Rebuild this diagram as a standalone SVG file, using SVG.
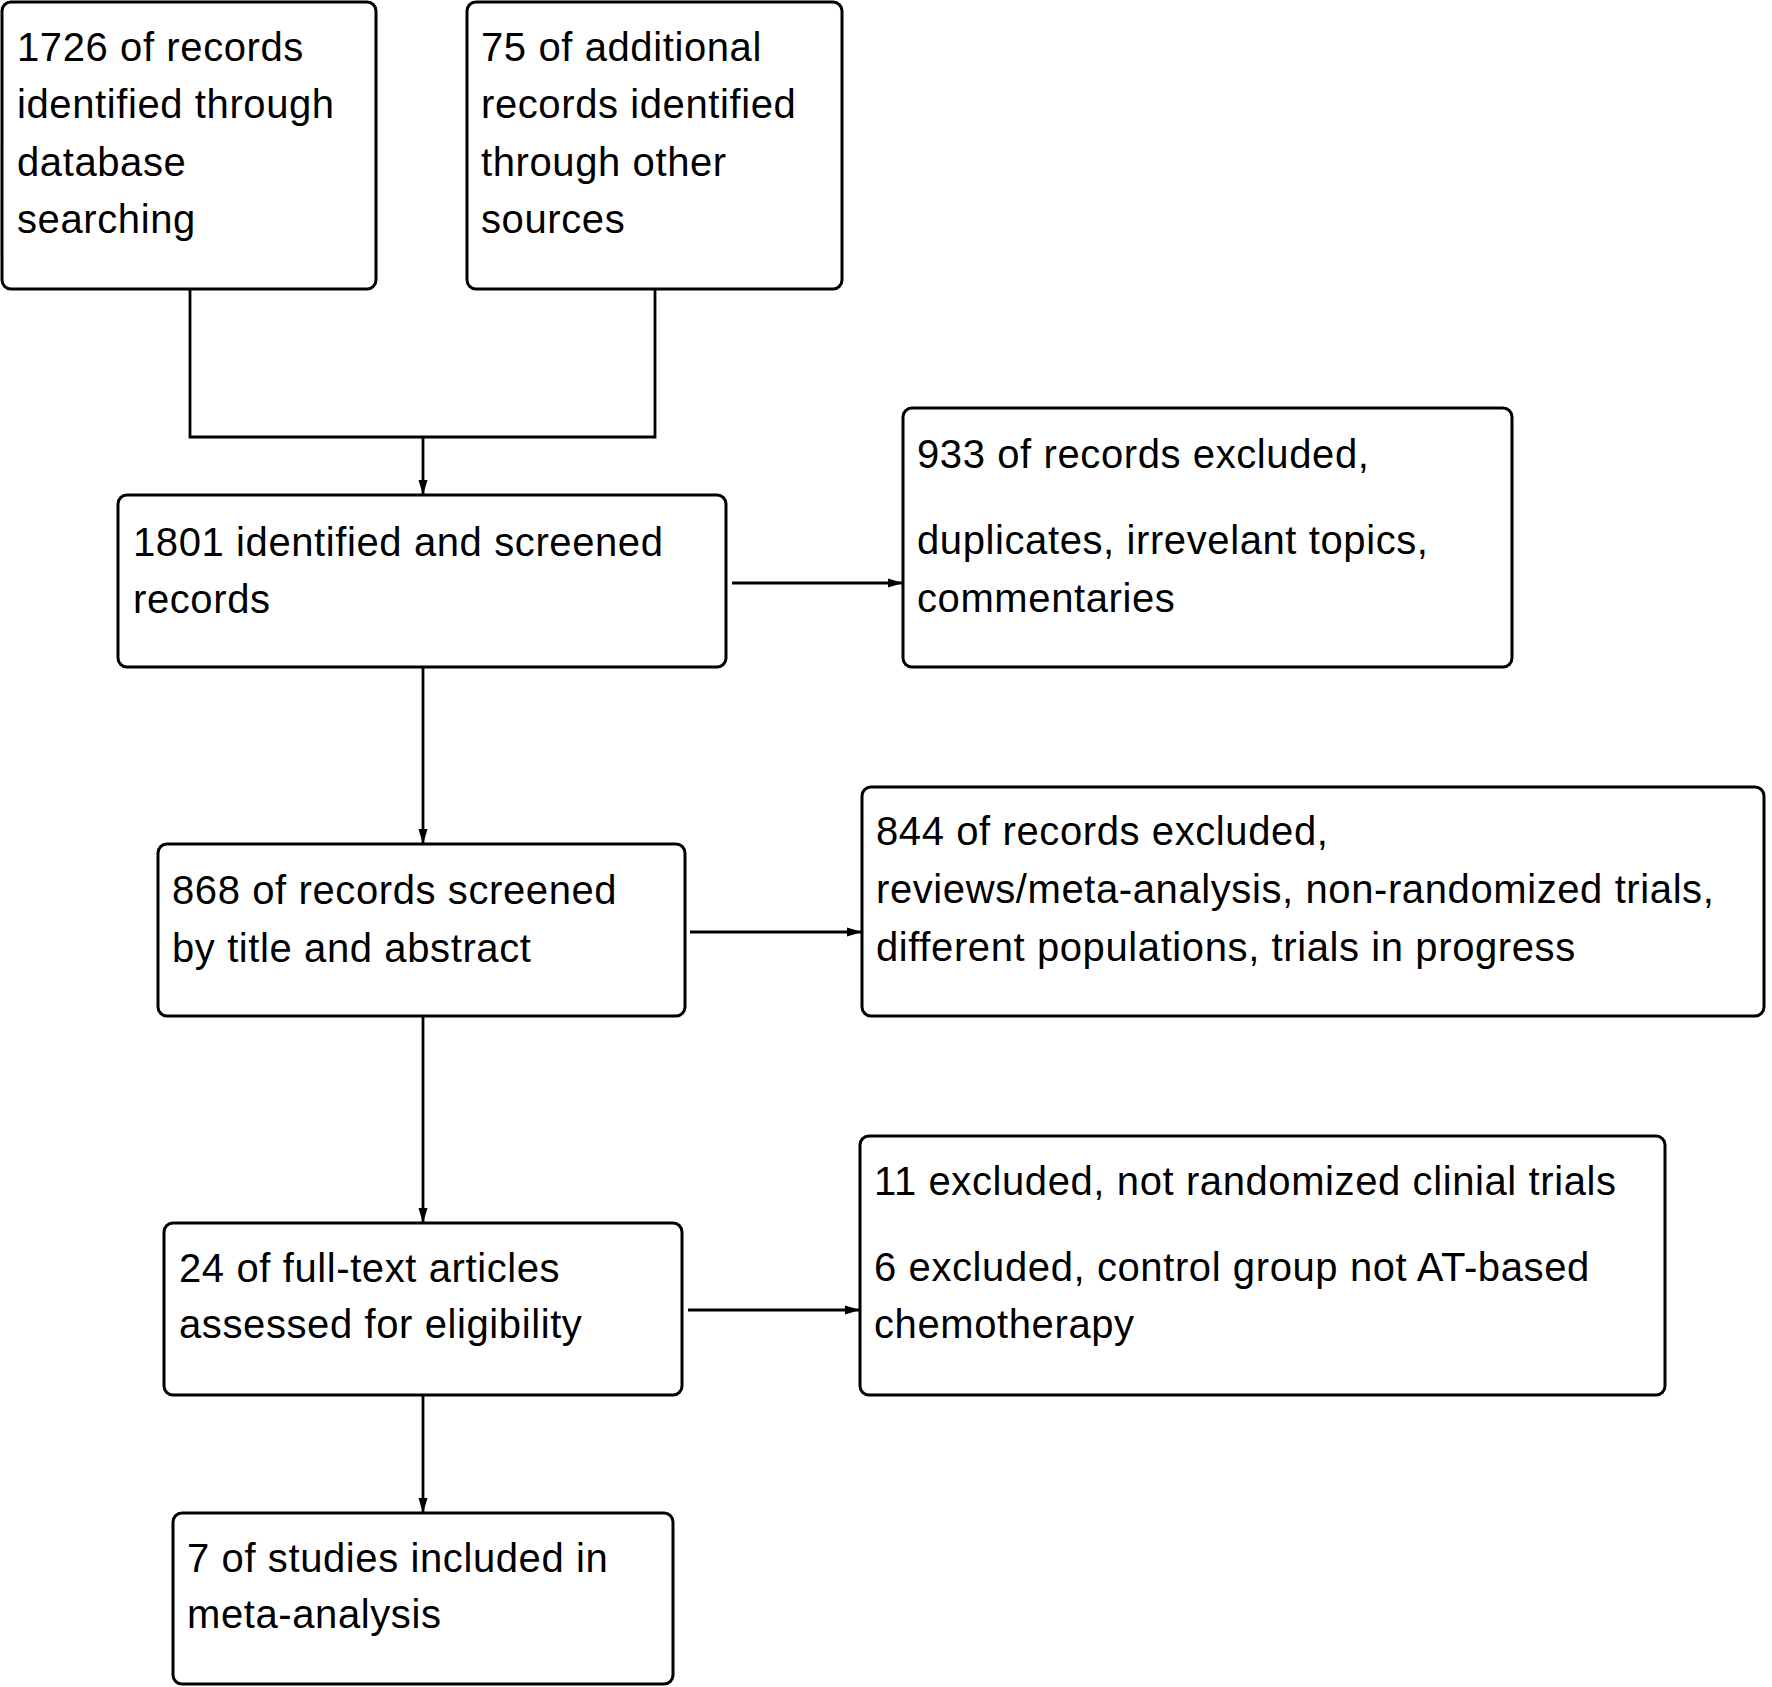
<svg xmlns="http://www.w3.org/2000/svg" width="1772" height="1687" viewBox="0 0 1772 1687">
<style>
.box{fill:#fff;stroke:#000;stroke-width:3}
.t{font-family:"Liberation Sans",Arial,sans-serif;font-size:40px;letter-spacing:0.6px;fill:#000}
.c{fill:none;stroke:#000;stroke-width:2.8}
</style>
<defs>
<marker id="ah" markerWidth="16" markerHeight="12" refX="15" refY="6" orient="auto" markerUnits="userSpaceOnUse">
<path d="M0,1.5 L15,6 L0,10.5 Z" fill="#000"/>
</marker>
</defs>
<rect width="1772" height="1687" fill="#fff"/>
<g id="connectors">
<path class="c" d="M190,289 V437 H655 V289"/>
<path class="c" d="M423,437 V495" marker-end="url(#ah)"/>
<path class="c" d="M423,667 V844" marker-end="url(#ah)"/>
<path class="c" d="M423,1016 V1223" marker-end="url(#ah)"/>
<path class="c" d="M423,1395 V1513" marker-end="url(#ah)"/>
<path class="c" d="M732,583 H903" marker-end="url(#ah)"/>
<path class="c" d="M690,932 H862" marker-end="url(#ah)"/>
<path class="c" d="M688,1310 H860" marker-end="url(#ah)"/>
</g>
<g id="n1">
<rect class="box" x="2" y="2" width="374" height="287" rx="9"/>
<text class="t" x="17" y="61">1726 of records</text>
<text class="t" x="17" y="118">identified through</text>
<text class="t" x="17" y="176">database</text>
<text class="t" x="17" y="233">searching</text>
</g>
<g id="n2">
<rect class="box" x="467" y="2" width="375" height="287" rx="9"/>
<text class="t" x="481" y="61">75 of additional</text>
<text class="t" x="481" y="118">records identified</text>
<text class="t" x="481" y="176">through other</text>
<text class="t" x="481" y="233">sources</text>
</g>
<g id="n3">
<rect class="box" x="118" y="495" width="608" height="172" rx="9"/>
<text class="t" x="133" y="556">1801 identified and screened</text>
<text class="t" x="133" y="613">records</text>
</g>
<g id="n4">
<rect class="box" x="903" y="408" width="609" height="259" rx="9"/>
<text class="t" x="917" y="468">933 of records excluded,</text>
<text class="t" x="917" y="554">duplicates, irrevelant topics,</text>
<text class="t" x="917" y="612">commentaries</text>
</g>
<g id="n5">
<rect class="box" x="158" y="844" width="527" height="172" rx="9"/>
<text class="t" x="172" y="904">868 of records screened</text>
<text class="t" x="172" y="962">by title and abstract</text>
</g>
<g id="n6">
<rect class="box" x="862" y="787" width="902" height="229" rx="9"/>
<text class="t" x="876" y="845">844 of records excluded,</text>
<text class="t" x="876" y="903">reviews/meta-analysis, non-randomized trials,</text>
<text class="t" x="876" y="961">different populations, trials in progress</text>
</g>
<g id="n7">
<rect class="box" x="164" y="1223" width="518" height="172" rx="9"/>
<text class="t" x="179" y="1282">24 of full-text articles</text>
<text class="t" x="179" y="1338">assessed for eligibility</text>
</g>
<g id="n8">
<rect class="box" x="860" y="1136" width="805" height="259" rx="9"/>
<text class="t" x="874" y="1195">11 excluded, not randomized clinial trials</text>
<text class="t" x="874" y="1281">6 excluded, control group not AT-based</text>
<text class="t" x="874" y="1338">chemotherapy</text>
</g>
<g id="n9">
<rect class="box" x="173" y="1513" width="500" height="171" rx="9"/>
<text class="t" x="187" y="1572">7 of studies included in</text>
<text class="t" x="187" y="1628">meta-analysis</text>
</g>
</svg>
